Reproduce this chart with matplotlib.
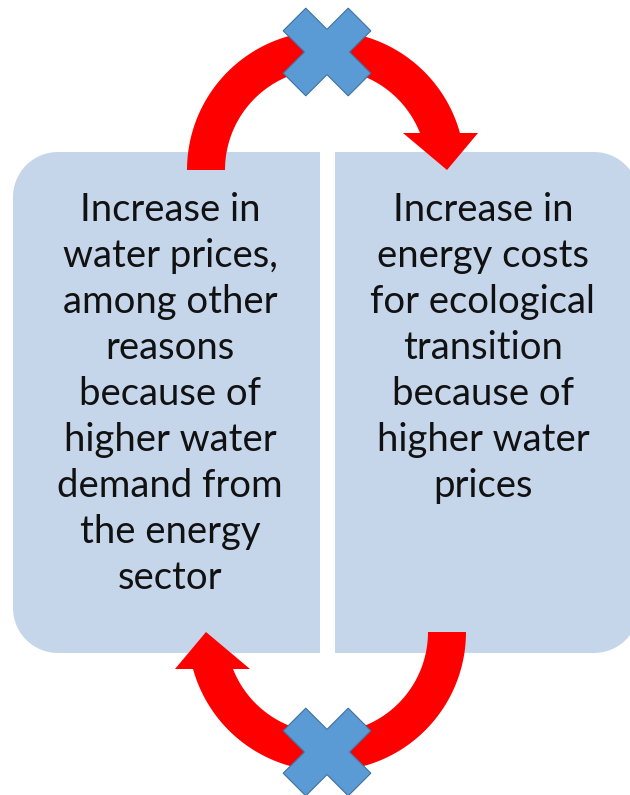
import numpy as np
import matplotlib
matplotlib.use("Agg")
import matplotlib.pyplot as plt
from matplotlib.patches import Polygon

plt.rcParams['font.family'] = ['Lato', 'DejaVu Sans']

# text in the two boxes
left_lines = ["Increase in", "water prices,", "among other", "reasons",
              "because of", "higher water", "demand from", "the energy", "sector"]
right_lines = ["Increase in", "energy costs", "for ecological", "transition",
               "because of", "higher water", "prices"]

BOX_COLOR = "#C5D5EA"
RED = "#FF0000"
X_FILL = "#5B9BD5"
X_EDGE = "#41719C"


def rounded_box(x0, x1, y0, y1, r, left=True):
    # rounded only on one side (y axis points down)
    t = np.linspace(0, np.pi / 2, 20)
    if left:
        bl = np.c_[x0 + r - r * np.sin(t), y1 - r + r * np.cos(t)]
        tl = np.c_[x0 + r - r * np.cos(t), y0 + r - r * np.sin(t)]
        pts = np.vstack([[[x1, y1]], bl, tl, [[x1, y0]]])
    else:
        tr = np.c_[x1 - r + r * np.sin(t), y0 + r - r * np.cos(t)]
        br = np.c_[x1 - r + r * np.cos(t), y1 - r + r * np.sin(t)]
        pts = np.vstack([[[x0, y0]], tr, br, [[x0, y1]]])
    return pts


def arc_band(cx, cy, r_in, r_out, cut_y):
    # band from the left end (180 deg) round the top to a horizontal cut
    t_out = np.arcsin((cy - cut_y) / r_out)
    t_in = np.arcsin((cy - cut_y) / r_in)
    to = np.linspace(np.pi, t_out, 80)
    ti = np.linspace(t_in, np.pi, 80)
    outer = np.c_[cx + r_out * np.cos(to), cy - r_out * np.sin(to)]
    inner = np.c_[cx + r_in * np.cos(ti), cy - r_in * np.sin(ti)]
    return np.vstack([outer, inner])


def x_shape(cx, cy, L=46, h=16):
    uv = np.array([(L, -h), (L, h), (h, h), (h, L), (-h, L), (-h, h),
                   (-L, h), (-L, -h), (-h, -h), (-h, -L), (h, -L), (h, -h)], dtype=float)
    c = s = np.sqrt(0.5)
    x = cx + uv[:, 0] * c - uv[:, 1] * s
    y = cy + uv[:, 0] * s + uv[:, 1] * c
    return np.c_[x, y]


fig = plt.figure(figsize=(6.3, 7.95), dpi=100)
ax = fig.add_axes([0, 0, 1, 1])
ax.set_xlim(0, 630)
ax.set_ylim(795, 0)
ax.axis("off")

# boxes
ax.add_patch(Polygon(rounded_box(13, 320, 152, 653, 45, left=True),
                     closed=True, fc=BOX_COLOR, ec="none", zorder=1))
ax.add_patch(Polygon(rounded_box(335, 639, 152, 653, 45, left=False),
                     closed=True, fc=BOX_COLOR, ec="none", zorder=1))

# top arrow, bottom one is the same turned by 180 degrees
band = arc_band(326, 170, 101, 139, 133)
head = np.array([(403, 133), (478, 133), (447, 170)], dtype=float)
for pts in (band, head):
    ax.add_patch(Polygon(pts, closed=True, fc=RED, ec="none", zorder=2))
    ax.add_patch(Polygon(np.c_[653 - pts[:, 0], 802 - pts[:, 1]], closed=True,
                         fc=RED, ec="none", zorder=2))

# blue crosses
for cy in (52, 752):
    ax.add_patch(Polygon(x_shape(327, cy), closed=True, fc=X_FILL, ec=X_EDGE,
                         lw=0.8, zorder=3))

# text
for lines, xc in ((left_lines, 170), (right_lines, 483)):
    for i, s in enumerate(lines):
        ax.text(xc, 210 + 46 * i, s, ha="center", va="center",
                fontsize=27.5, color="#111111", zorder=4)

fig.savefig("out.png", dpi=100)
